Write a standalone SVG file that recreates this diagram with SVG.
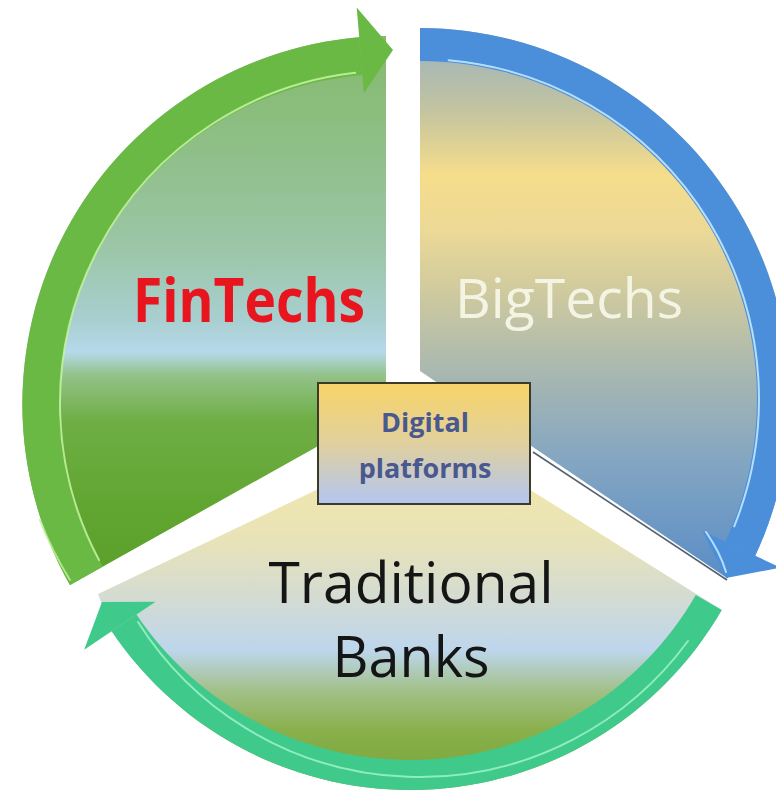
<svg xmlns="http://www.w3.org/2000/svg" width="776" height="796" viewBox="0 0 776 796">
  <style>
    .label { font-family: "Open Sans", "Noto Sans", "Liberation Sans", sans-serif; text-anchor: middle; }
    .fin { font-weight: 700; font-size: 60px; fill: #e8141e; }
    .big { font-weight: 400; font-size: 55px; fill: #f4f4e4; }
    .bank { font-weight: 400; font-size: 56px; fill: #151515; }
    .plat { font-weight: 700; font-size: 27px; fill: #4a5890; }
    .gloss { fill: none; stroke-width: 2; stroke-linecap: round; opacity: 0.85; }
  </style>
  <defs>
    <linearGradient id="gFin" gradientUnits="userSpaceOnUse" x1="0" y1="36" x2="0" y2="590">
      <stop offset="0" stop-color="#84ba6c"/>
      <stop offset="0.206" stop-color="#8fbf88"/>
      <stop offset="0.386" stop-color="#9cc6a8"/>
      <stop offset="0.513" stop-color="#a8cfd0"/>
      <stop offset="0.57" stop-color="#b6d9ea"/>
      <stop offset="0.612" stop-color="#93c28a"/>
      <stop offset="0.693" stop-color="#6fae45"/>
      <stop offset="0.838" stop-color="#62a632"/>
      <stop offset="1" stop-color="#5b9f2b"/>
    </linearGradient>
    <linearGradient id="gBig" gradientUnits="userSpaceOnUse" x1="0" y1="28" x2="0" y2="578">
      <stop offset="0.02" stop-color="#9db3bd"/>
      <stop offset="0.149" stop-color="#c3c4a0"/>
      <stop offset="0.267" stop-color="#f6dd8b"/>
      <stop offset="0.367" stop-color="#ecd996"/>
      <stop offset="0.495" stop-color="#cbc8a0"/>
      <stop offset="0.64" stop-color="#a5b6b2"/>
      <stop offset="0.785" stop-color="#84a6c2"/>
      <stop offset="1" stop-color="#5a8dc6"/>
    </linearGradient>
    <linearGradient id="gBank" gradientUnits="userSpaceOnUse" x1="0" y1="432" x2="0" y2="765">
      <stop offset="0.114" stop-color="#f1e7ac"/>
      <stop offset="0.324" stop-color="#e8e3b8"/>
      <stop offset="0.504" stop-color="#d3dbd3"/>
      <stop offset="0.655" stop-color="#bdd6ec"/>
      <stop offset="0.775" stop-color="#a2c08a"/>
      <stop offset="0.895" stop-color="#89b04c"/>
      <stop offset="1" stop-color="#7fa93f"/>
    </linearGradient>
    <linearGradient id="gBox" x1="0" y1="0" x2="0" y2="1">
      <stop offset="0" stop-color="#f8d468"/>
      <stop offset="0.5" stop-color="#e0d09e"/>
      <stop offset="1" stop-color="#b3c6f2"/>
    </linearGradient>
  </defs>

  <rect width="776" height="796" fill="#ffffff"/>

  <!-- pie segments -->
  <g id="node-fintechs">
    <path d="M386,408 L386,36 A368,368 0 0 0 70,585 Z" fill="url(#gFin)"/>
    <text class="label fin" x="249" y="322" textLength="232" lengthAdjust="spacingAndGlyphs">FinTechs</text>
  </g>

  <g id="node-bigtechs">
    <path d="M420,371 L420,28 A371,371 0 0 1 755.2,555.8 L727,578 Z" fill="url(#gBig)"/>
    <path d="M533,452 L727,580" stroke="#56626e" stroke-width="1.6" fill="none"/>
    <text class="label big" x="569" y="318" textLength="228" lengthAdjust="spacingAndGlyphs">BigTechs</text>
  </g>

  <g id="node-banks">
    <path d="M438,432 L721.8,610 A360,360 0 0 1 111.6,631.3 L98,594 Z" fill="url(#gBank)"/>
    <text class="label bank" x="411" y="603" textLength="285" lengthAdjust="spacingAndGlyphs">Traditional</text>
    <text class="label bank" x="411" y="677" textLength="157" lengthAdjust="spacingAndGlyphs">Banks</text>
  </g>

  <!-- circular arrows around the segments -->
  <g id="connectors">
    <g id="arrow-fintechs-bigtechs">
      <path d="M70,585 A368,368 0 0 1 359.2,37.3 L362.4,75.1 A330,330 0 0 0 102.8,566.6 Z" fill="#6ab945"/>
      <polygon points="356.7,7.4 393,50 363.9,93.1" fill="#6ab945"/>
      <path class="gloss" d="M99,560 A333,333 0 0 1 355.2,72.8" stroke="#c6f4a2"/>
      <path class="gloss" d="M40,520 A366,366 0 0 0 70,580" stroke="#b8ee96"/>
    </g>
    <g id="arrow-bigtechs-banks">
      <path d="M420,28 A371,371 0 0 1 755.2,555.8 L725.3,541.8 A338,338 0 0 0 420,61 Z" fill="#4b8fdb"/>
      <polygon points="702.7,531.3 780.6,567.6 726,578" fill="#4b8fdb"/>
      <path class="gloss" d="M448.6,60.3 A340,340 0 0 1 734.2,526.4" stroke="#c8ecff"/>
      <path class="gloss" d="M706,532 Q720,552 726,572" stroke="#c8ecff"/>
    </g>
    <g id="arrow-banks-fintechs">
      <path d="M721.8,610 A360,360 0 0 1 111.6,631.3 L136.4,614.5 A330,330 0 0 0 695.8,595 Z" fill="#3fca8b"/>
      <polygon points="155.5,601.7 102,602 84.2,649.8" fill="#3fca8b"/>
      <path class="gloss" d="M688,641 A333,333 0 0 1 138,622" stroke="#9ef2c8"/>
    </g>
  </g>

  <!-- centre label -->
  <g id="node-platforms">
    <rect x="318" y="383" width="212" height="121" fill="url(#gBox)" stroke="#3c3a28" stroke-width="2"/>
    <text class="label plat" x="425" y="432">Digital</text>
    <text class="label plat" x="425" y="478">platforms</text>
  </g>
</svg>
